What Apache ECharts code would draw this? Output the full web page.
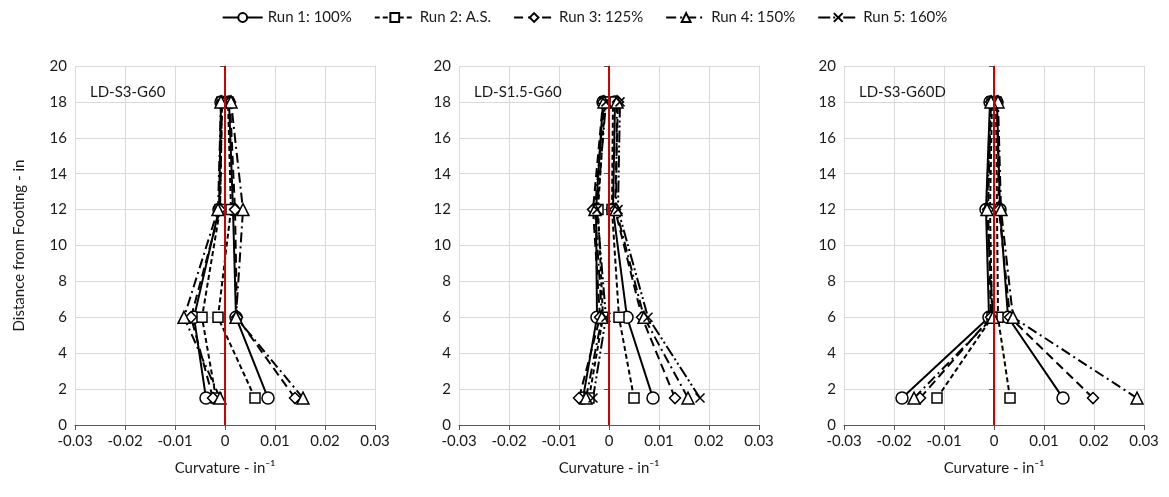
<!DOCTYPE html>
<html>
<head>
<meta charset="utf-8">
<script src="https://cdn.jsdelivr.net/npm/echarts@6/dist/echarts.min.js"></script>
<style>
  html, body { margin: 0; padding: 0; background: #fff; }
  #chart { width: 1169px; height: 497px; }
</style>
</head>
<body>
<div id="chart"></div>
<script>
// heights of the curvature gauges above the footing (in)
const heights = [1.5, 6, 12, 18];

const runNames = ["Run 1: 100%", "Run 2: A.S.", "Run 3: 125%", "Run 4: 150%", "Run 5: 160%"];
const panelTitles = ["LD-S3-G60", "LD-S1.5-G60", "LD-S3-G60D"];
const xTicks = [-0.03, -0.02, -0.01, 0, 0.01, 0.02, 0.03];
const yTicks = [0, 2, 4, 6, 8, 10, 12, 14, 16, 18, 20];

// curvature at each height, push (+) and pull (-) direction
// LD-S3-G60
const p1Run1Pos = [0.0086, 0.0022, 0.0016, 0.0008];
const p1Run1Neg = [-0.0038, -0.0062, -0.0012, -0.0008];
const p1Run2Pos = [0.0060, -0.0014, 0.0012, 0.0006];
const p1Run2Neg = [-0.0018, -0.0046, -0.0010, -0.0006];
const p1Run3Pos = [0.0140, 0.0024, 0.0020, 0.0010];
const p1Run3Neg = [-0.0024, -0.0068, -0.0010, -0.0006];
const p1Run4Pos = [0.0156, 0.0022, 0.0036, 0.0012];
const p1Run4Neg = [-0.0010, -0.0082, -0.0014, -0.0008];

// LD-S1.5-G60
const p2Run1Pos = [0.0088, 0.0036, 0.0008, 0.0012];
const p2Run1Neg = [-0.0052, -0.0024, -0.0026, -0.0012];
const p2Run2Pos = [0.0050, 0.0020, 0.0006, 0.0008];
const p2Run2Neg = [-0.0040, -0.0012, -0.0022, -0.0008];
const p2Run3Pos = [0.0132, 0.0066, 0.0012, 0.0018];
const p2Run3Neg = [-0.0060, -0.0018, -0.0032, -0.0012];
const p2Run4Pos = [0.0158, 0.0070, 0.0014, 0.0016];
const p2Run4Neg = [-0.0046, -0.0014, -0.0028, -0.0010];
const p2Run5Pos = [0.0182, 0.0078, 0.0018, 0.0022];
const p2Run5Neg = [-0.0032, -0.0006, -0.0024, -0.0006];

// LD-S3-G60D
const p3Run1Pos = [0.0138, 0.0028, 0.0012, 0.0006];
const p3Run1Neg = [-0.0184, -0.0010, -0.0016, -0.0008];
const p3Run2Pos = [0.0032, 0.0008, 0.0006, 0.0004];
const p3Run2Neg = [-0.0114, -0.0004, -0.0008, -0.0004];
const p3Run3Pos = [0.0198, 0.0032, 0.0010, 0.0006];
const p3Run3Neg = [-0.0148, -0.0006, -0.0012, -0.0006];
const p3Run4Pos = [0.0286, 0.0038, 0.0014, 0.0008];
const p3Run4Neg = [-0.0160, -0.0002, -0.0014, -0.0006];

const panelRuns = [
  [[0, p1Run1Pos, p1Run1Neg], [1, p1Run2Pos, p1Run2Neg], [2, p1Run3Pos, p1Run3Neg], [3, p1Run4Pos, p1Run4Neg]],
  [[0, p2Run1Pos, p2Run1Neg], [1, p2Run2Pos, p2Run2Neg], [2, p2Run3Pos, p2Run3Neg], [3, p2Run4Pos, p2Run4Neg], [4, p2Run5Pos, p2Run5Neg]],
  [[0, p3Run1Pos, p3Run1Neg], [1, p3Run2Pos, p3Run2Neg], [2, p3Run3Pos, p3Run3Neg], [3, p3Run4Pos, p3Run4Neg]],
];

const FONT = "Lato, 'Open Sans', sans-serif";
const TEXT = "#1a1a1a";

const runStyle = [
  { symbol: "circle", size: 12, dash: "solid" },
  { symbol: "rect", size: 10, dash: [5, 3] },
  { symbol: "diamond", size: 11, dash: [9, 5] },
  { symbol: "triangle", size: 12, dash: [10, 4, 2, 4] },
  { symbol: "path://M0,0L10,10M10,0L0,10", size: 9, dash: [12, 3, 2, 3, 2, 3] },
];

const gridLefts = [75, 459, 844];

const grids = gridLefts.map((left) => ({
  left: left,
  width: 300,
  top: 66,
  height: 359,
}));

const xAxes = gridLefts.map((_, i) => ({
  type: "value",
  gridIndex: i,
  min: xTicks[0],
  max: xTicks[xTicks.length - 1],
  interval: 0.01,
  name: "Curvature - in\u207B\u00B9",
  nameLocation: "middle",
  nameGap: 36,
  nameTextStyle: { fontFamily: FONT, fontSize: 15, color: TEXT },
  axisLine: { show: true, onZero: false, lineStyle: { color: "#595959", width: 1 } },
  axisTick: { show: true, inside: false, length: 5, lineStyle: { color: "#595959" } },
  axisLabel: {
    fontFamily: FONT,
    fontSize: 15,
    color: TEXT,
    margin: 9,
    formatter: (v) => (Math.abs(v) < 1e-9 ? "0" : Number(v.toFixed(2)).toString()),
  },
  splitLine: { show: true, lineStyle: { color: "#d9d9d9", width: 1 } },
}));

const yAxes = gridLefts.map((_, i) => ({
  type: "value",
  gridIndex: i,
  min: yTicks[0],
  max: yTicks[yTicks.length - 1],
  interval: 2,
  name: i === 0 ? "Distance from Footing - in" : "",
  nameLocation: "middle",
  nameGap: 48,
  nameTextStyle: { fontFamily: FONT, fontSize: 15, color: TEXT },
  axisLine: { show: true, lineStyle: { color: "#595959", width: 1 } },
  axisTick: { show: true, length: 5, lineStyle: { color: "#595959" } },
  axisLabel: { fontFamily: FONT, fontSize: 15, color: TEXT, margin: 8 },
  splitLine: { show: true, lineStyle: { color: "#d9d9d9", width: 1 } },
}));

function toPoints(values) {
  return values.map((v, i) => [v, heights[i]]);
}

const series = [];
panelRuns.forEach((runs, panel) => {
  // red zero line
  series.push({
    type: "line",
    xAxisIndex: panel,
    yAxisIndex: panel,
    data: [],
    silent: true,
    markLine: {
      symbol: "none",
      silent: true,
      label: { show: false },
      lineStyle: { color: "#d00000", width: 2, type: "solid" },
      data: [{ xAxis: 0 }],
    },
    z: 1,
  });
  runs.forEach(([run, pos, neg]) => {
    const st = runStyle[run];
    [pos, neg].forEach((vals) => {
      series.push({
        name: runNames[run],
        type: "line",
        xAxisIndex: panel,
        yAxisIndex: panel,
        data: toPoints(vals),
        symbol: st.symbol,
        symbolSize: st.size,
        showAllSymbol: true,
        lineStyle: { color: "#000", width: 2, type: st.dash },
        itemStyle: { color: "#fff", borderColor: "#000", borderWidth: 1.5 },
        z: 3,
      });
    });
  });
});

const chart = echarts.init(document.getElementById("chart"), null, { renderer: "canvas" });
chart.setOption({
  animation: false,
  backgroundColor: "#fff",
  title: gridLefts.map((left, i) => ({
    text: panelTitles[i],
    left: left + 10,
    top: 80,
    textStyle: { fontFamily: FONT, fontSize: 15, fontWeight: "normal", color: TEXT },
  })),
  legend: {
    top: 5,
    left: "center",
    data: runNames,
    itemWidth: 40,
    itemHeight: 11,
    itemGap: 22,
    textStyle: { fontFamily: FONT, fontSize: 15, color: TEXT },
  },
  grid: grids,
  xAxis: xAxes,
  yAxis: yAxes,
  series: series,
});
</script>
</body>
</html>
